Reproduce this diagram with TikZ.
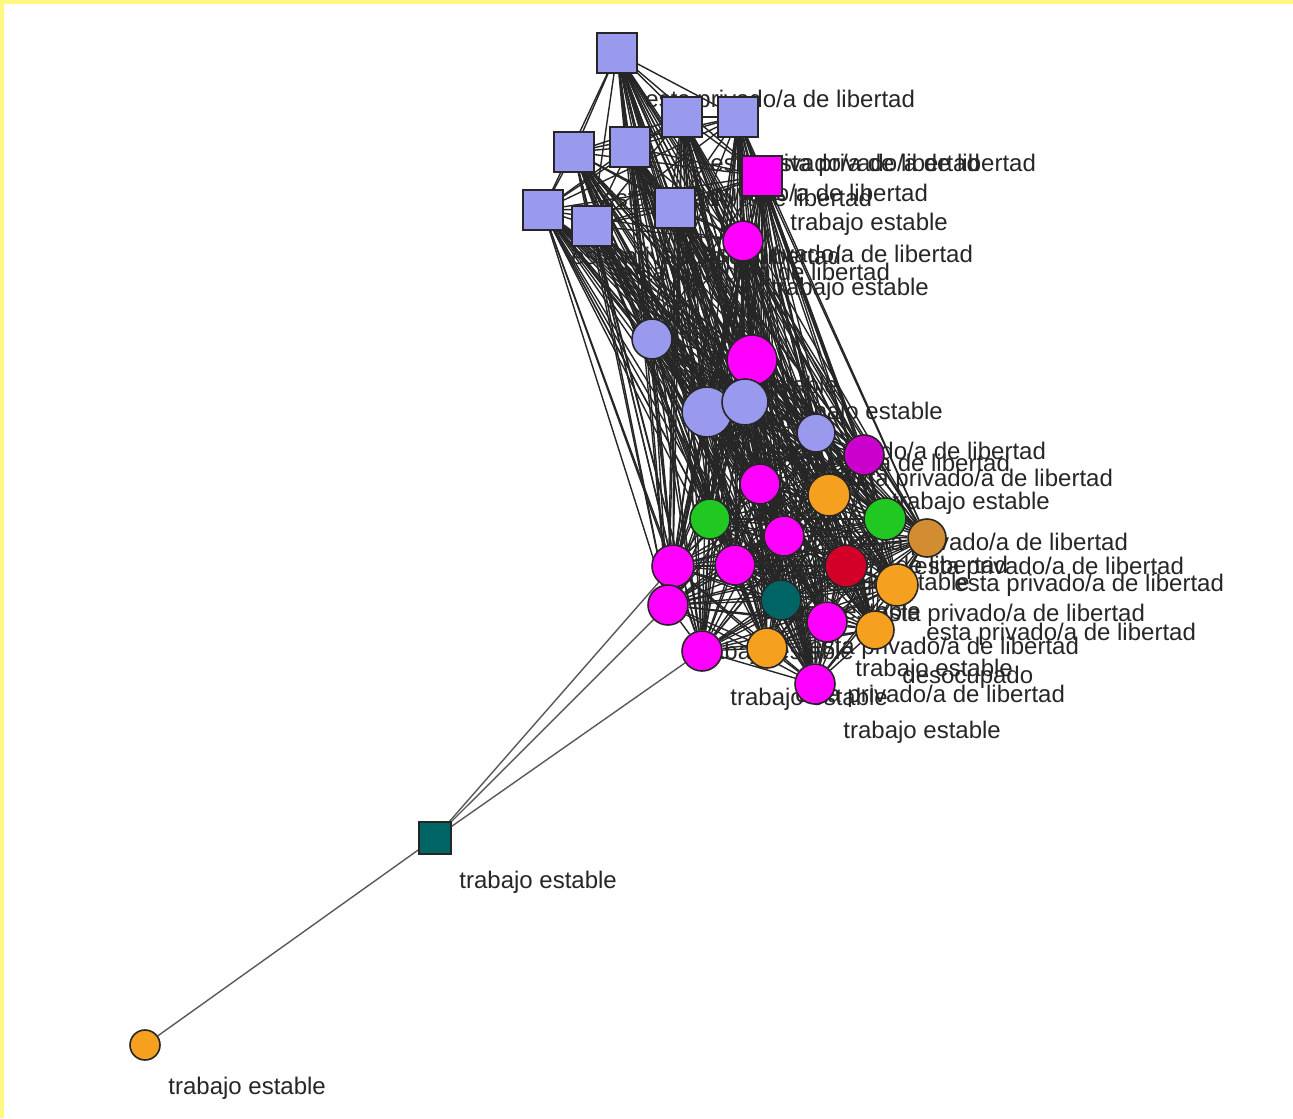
\documentclass[tikz,border=0pt]{standalone}
\usepackage{fontspec}
\setmainfont{Liberation Sans}

\definecolor{paper}{RGB}{255,247,128}
\definecolor{lav}{RGB}{153,153,238}
\definecolor{mag}{RGB}{255,0,255}
\definecolor{pur}{RGB}{204,0,204}
\definecolor{org}{RGB}{245,160,30}
\definecolor{grn}{RGB}{34,200,34}
\definecolor{rdd}{RGB}{210,0,40}
\definecolor{tel}{RGB}{0,100,100}
\definecolor{brn}{RGB}{210,140,50}

\newcommand{\priv}{esta privado/a de libertad}
\newcommand{\trab}{trabajo estable}
\newcommand{\deso}{desocupado}

\pgfdeclarelayer{edges}
\pgfdeclarelayer{labels}
\pgfsetlayers{edges,labels,main}

\tikzset{
	sq/.style={rectangle,draw=black!85,line width=0.8pt,inner sep=0pt},
	dot/.style={circle,draw=black!85,line width=0.8pt,inner sep=0pt},
	edge/.style={draw=black!85,line width=0.7pt},
	lbl/.style={anchor=west,inner sep=0pt,text=black!85,font=\fontsize{12}{14}\selectfont}
}

\begin{document}
\begin{tikzpicture}[x=0.5pt,y=-0.5pt]
			\begin{pgfonlayer}{edges}
				\fill[paper] (0,0) rectangle (1293,1118);
				\fill[white] (4,4) rectangle (1293,1118);
			\end{pgfonlayer}
			\useasboundingbox (0,0) rectangle (1293,1118);
			
			% actors
			
			\foreach \n/\x/\y/\k/\c/\s/\t in {
				S1/617/53/sq/lav/20/\priv, S2/682/117/sq/lav/20/\priv,
				S3/738/117/sq/lav/20/\priv, S4/574/152/sq/lav/20/\priv,
				S5/630/147/sq/lav/20/\priv, S6/543/210/sq/lav/20/\priv,
				S7/592/226/sq/lav/20/\priv, S8/675/208/sq/lav/20/\priv,
				S9/762/176/sq/mag/20/\trab,
				C1/743/241/dot/mag/20/\trab, C2/652/339/dot/lav/20/\trab,
				C3/752/360/dot/mag/25/\trab, C4/707/412/dot/lav/25/\priv,
				C5/745/402/dot/lav/23/\priv, C6/816/433/dot/lav/19/\priv,
				C7/864/455/dot/pur/20/\trab, C8/760/484/dot/mag/20/,
				C9/829/495/dot/org/21/\priv, C10/710/519/dot/grn/20/\priv,
				C11/885/519/dot/grn/21/\priv, C12/927/538/dot/brn/19/\priv,
				C13/784/536/dot/mag/20/\trab, C14/735/565/dot/mag/20/\trab,
				C15/673/566/dot/mag/21/, C16/846/566/dot/rdd/21/\priv,
				C17/897/585/dot/org/21/\priv, C18/781/600/dot/tel/20/\priv,
				C19/668/605/dot/mag/20/\trab, C20/827/622/dot/mag/20/\trab,
				C21/875/630/dot/org/19/\deso, C22/702/651/dot/mag/20/\trab,
				C23/767/648/dot/org/20/\priv, C24/815/684/dot/mag/20/\trab,
				T/435/838/sq/tel/16/\trab, O/145/1045/dot/org/15/\trab} {
				\node[\k,fill=\c,minimum size=\s*1pt] (\n) at (\x,\y) {};
				\begin{pgfonlayer}{labels}
					\node[lbl] (L\n) at ({\x+\s+8},{\y+\s+28}) {\t};
				\end{pgfonlayer}
			}
			
			% ties
			
			\begin{pgfonlayer}{edges}
				\foreach \i in {1,...,8} {
					\pgfmathtruncatemacro{\k}{\i + 1}
					\foreach \j in {\k,...,9}
						\draw[edge] (S\i) -- (S\j);
				}
				\foreach \i in {1,...,9} {
					\foreach \j in {1,...,24}
						\draw[edge] (S\i) -- (C\j);
				}
				\foreach \i in {1,...,23} {
					\pgfmathtruncatemacro{\k}{\i + 1}
					\foreach \j in {\k,...,24}
						\draw[edge] (C\i) -- (C\j);
				}
				\draw[edge,black!65] (T) -- (C15);
				\draw[edge,black!65] (T) -- (C19);
				\draw[edge,black!65] (T) -- (C22);
				\draw[edge,black!65] (T) -- (O);
			\end{pgfonlayer}
			
		\end{tikzpicture}
\end{document}
